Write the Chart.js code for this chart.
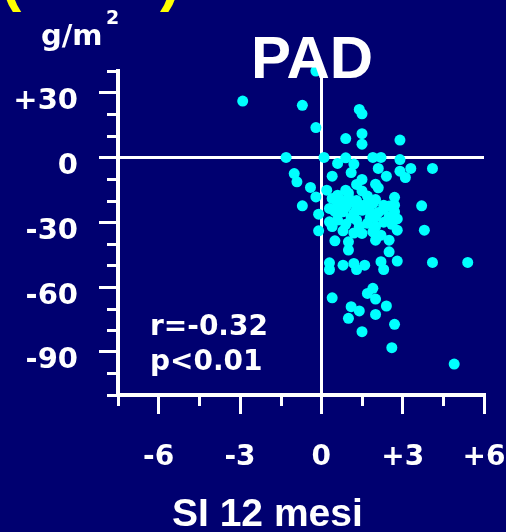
<!DOCTYPE html>
<html>
<head>
<meta charset="utf-8">
<script src="https://cdn.jsdelivr.net/npm/chart.js@4/dist/chart.umd.min.js"></script>
<style>
  html, body { margin: 0; padding: 0; background: #000070; }
  canvas { display: block; }
</style>
</head>
<body>
<canvas id="padChart" width="506" height="532"></canvas>
<script>
// SI change at 12 months (x) vs LV mass change in g/m2 (y)
const siChange = [
  -0.2, -2.9, -0.7, 1.4, 1.5, -0.2, 0.9, 1.5, 1.5, 2.9,
  -1.3, 0.1, 0.9, 1.9, 2.2, 2.9, 0.6, 1.2, 4.1, 3.3,
  2.1, 2.9, -1.0, 1.1, 0.4, 2.4, 3.1, -0.9, 1.5, 2.0,
  -0.4, 1.3, 0.2, 0.9, 2.1, -0.2, 0.6, 1.0, 1.7, 2.7,
  -0.7, 3.7, -0.1, 0.6, 1.9, 2.3, 2.7, 0.8, 1.3, 1.8,
  2.7, 0.3, -0.1, 0.3, 0.6, 1.3, 2.0, 2.5, 2.8, 3.8,
  0.5, 1.0, 1.5, 2.0, 2.5, 1.0, 2.5, 0.3, 0.3, 0.8,
  1.2, 1.6, 1.3, 2.2, 2.3, 2.8, 4.1, 5.4, 0.4, 1.9,
  1.7, 2.0, 2.4, 1.1, 1.4, 2.0, 1.0, 2.7, 1.5, 2.6,
  4.9,
  0.4, 0.7, 1.0, 1.3, 1.6, 2.0, 2.3, 0.5, 0.9, 1.2,
  1.5, 1.8, 2.1, 2.5, 0.6, 0.9, 1.1, 1.4, 1.7, 2.0,
  2.3, 2.6, 0.8, 1.2, 1.9, 2.2, 0.4, 2.8, 1.0, 1.5
];
const lvmChange = [
  40, 26.1, 24.1, 22.2, 20.2, 13.8, 8.7, 11.0, 6.1, 8.0,
  0, 0, -0.2, 0, 0, -1.0, -2.8, -3.1, -5.1, -5.1,
  -5.1, -6.4, -7.5, -7.0, -8.7, -8.7, -9.3, -11.3, -10.2, -12.4,
  -13.9, -12.5, -15.2, -15.2, -14.1, -18.3, -17.5, -18.3, -17.9, -18.5,
  -22.4, -22.4, -26.3, -21.3, -21.3, -22.1, -22.1, -25.2, -23.6, -25.2,
  -25.2, -23.6, -34.0, -29.8, -26.0, -29.0, -27.5, -27.5, -33.7, -33.7,
  -38.6, -39.1, -35.2, -38.3, -38.3, -42.9, -43.7, -48.8, -51.9, -49.9,
  -49.1, -49.9, -51.9, -48.3, -51.9, -48.0, -48.6, -48.6, -65.0, -60.6,
  -63.0, -65.6, -68.8, -69.1, -71.1, -72.7, -74.5, -77.3, -80.7, -88.1,
  -95.7,
  -19, -20, -21, -20, -22, -19.5, -24, -25, -23, -26,
  -24.5, -28, -25.5, -22.5, -29, -31, -28, -32, -30.5, -32,
  -30, -31, -34, -35, -34.5, -36, -32, -28.5, -16.5, -15.5
];

const xMajorValues = [-6, -3, 0, 3, 6];
const xMajorLabels = ["-6", "-3", "0", "+3", "+6"];
const yMajorValues = [30, 0, -30, -60, -90];
const yMajorLabels = ["+30", "0", "-30", "-60", "-90"];

const WHITE = "#ffffff";

function isMajor(v, step) {
  return Math.abs(Math.round(v / step) * step - v) < 1e-9;
}

function labelFor(v, values, labels) {
  const i = values.findIndex((m) => Math.abs(m - v) < 1e-9);
  return i >= 0 ? labels[i] : "";
}

// short ticks between the labelled ones
const minorTicks = {
  id: "minorTicks",
  afterDraw(chart) {
    const { ctx, scales } = chart;
    const x = scales.x;
    const y = scales.y;
    ctx.save();
    ctx.strokeStyle = WHITE;
    ctx.lineWidth = 3;
    ctx.beginPath();
    x.ticks.forEach((t) => {
      if (isMajor(t.value, 3)) return;
      const px = Math.round(x.getPixelForValue(t.value)) + 0.5;
      ctx.moveTo(px, x.top);
      ctx.lineTo(px, x.top + 11);
    });
    y.ticks.forEach((t) => {
      if (isMajor(t.value, 30)) return;
      const py = Math.round(y.getPixelForValue(t.value)) + 0.5;
      ctx.moveTo(y.right - 11, py);
      ctx.lineTo(y.right, py);
    });
    ctx.stroke();
    ctx.restore();
  },
};

// free text: heading, units, group name, stats, axis name
const textLabels = {
  id: "textLabels",
  afterDraw(chart) {
    const ctx = chart.ctx;
    ctx.save();
    ctx.textBaseline = "alphabetic";

    ctx.fillStyle = "#ffff00";
    ctx.textAlign = "right";
    ctx.font = 'bold 60px "Liberation Sans"';
    ctx.fillText("(LVMI)", 180, 0);

    ctx.fillStyle = WHITE;
    ctx.textAlign = "left";
    ctx.font = 'bold 29px "DejaVu Sans"';
    ctx.fillText("g/m", 41, 45);
    ctx.font = 'bold 19px "DejaVu Sans"';
    ctx.fillText("2", 106, 24);

    ctx.textAlign = "center";
    ctx.font = 'bold 60px "Liberation Sans"';
    ctx.fillText("PAD", 312, 78);

    ctx.textAlign = "left";
    ctx.font = 'bold 28px "DejaVu Sans"';
    ctx.fillText("r=-0.32", 150, 335);
    ctx.fillText("p<0.01", 150, 370);

    ctx.font = 'bold 39px "Liberation Sans"';
    ctx.fillText("SI 12 mesi", 172, 526);
    ctx.restore();
  },
};

function init() {
  const points = siChange.map((x, i) => ({ x, y: lvmChange[i] }));

  new Chart(document.getElementById("padChart"), {
    type: "scatter",
    data: {
      datasets: [
        {
          data: points,
          pointRadius: 5.5,
          pointHoverRadius: 5.5,
          backgroundColor: "#00ffff",
          borderWidth: 0,
          clip: false,
        },
      ],
    },
    options: {
      responsive: false,
      animation: false,
      events: [],
      layout: { padding: { top: 71, right: 22, left: 0, bottom: 0 } },
      plugins: { legend: { display: false }, tooltip: { enabled: false } },
      scales: {
        x: {
          type: "linear",
          min: -7.5,
          max: 6,
          afterFit(s) {
            s.height = 137;
            // the end labels may hang over the plot edges
            s.paddingLeft = 0;
            s.paddingRight = 0;
          },
          border: { display: true, color: WHITE, width: 4 },
          grid: {
            color: (c) => (c.tick && c.tick.value === 0 ? WHITE : "transparent"),
            lineWidth: 3,
            tickLength: 19,
            tickWidth: 3,
            tickColor: (c) => (c.tick && isMajor(c.tick.value, 3) ? WHITE : "transparent"),
          },
          ticks: {
            stepSize: 1.5,
            autoSkip: false,
            maxRotation: 0,
            minRotation: 0,
            padding: 27,
            color: WHITE,
            font: { family: "DejaVu Sans", weight: "bold", size: 28 },
            callback: (v) => labelFor(v, xMajorValues, xMajorLabels),
          },
        },
        y: {
          type: "linear",
          min: -110,
          max: 40,
          afterFit(s) {
            s.width = 118;
            s.paddingTop = 0;
            s.paddingBottom = 0;
          },
          border: { display: true, color: WHITE, width: 4 },
          grid: {
            color: (c) => (c.tick && c.tick.value === 0 ? WHITE : "transparent"),
            lineWidth: 3,
            tickLength: 19,
            tickWidth: 3,
            tickColor: (c) => (c.tick && isMajor(c.tick.value, 30) ? WHITE : "transparent"),
          },
          ticks: {
            stepSize: 10,
            autoSkip: false,
            padding: 21,
            labelOffset: 9,
            color: WHITE,
            font: { family: "DejaVu Sans", weight: "bold", size: 29 },
            callback: (v) => labelFor(v, yMajorValues, yMajorLabels),
          },
        },
      },
    },
    plugins: [minorTicks, textLabels],
  });
}

window.addEventListener("load", init);
</script>
</body>
</html>
